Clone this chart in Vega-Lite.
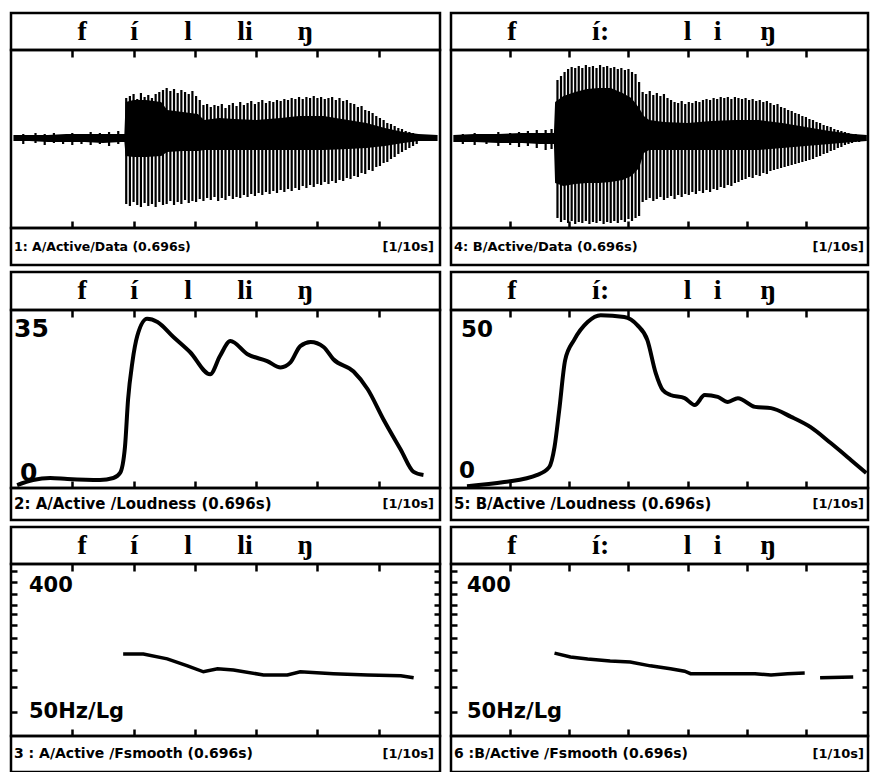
{
"$schema": "https://vega.github.io/schema/vega-lite/v6.json",
"background": "white",
"padding": {"left": 7, "top": 11, "right": 0, "bottom": 0},
"spacing": 5,
"config": {"view": {"stroke": "black", "strokeWidth": 2.5}},
"datasets": {
"phA": [{"t":116,"ph":"f"},{"t":201,"ph":"í"},{"t":289,"ph":"l"},{"t":382,"ph":"li"},{"t":480,"ph":"ŋ"}],
"phB": [{"t":103,"ph":"f"},{"t":253,"ph":"í:"},{"t":400,"ph":"l"},{"t":451,"ph":"i"},{"t":536,"ph":"ŋ"}],
"wfA_core": [{"t":4,"lo":-3,"hi":3},{"t":30,"lo":-3,"hi":3},{"t":60,"lo":-4,"hi":3},{"t":90,"lo":-4,"hi":4},{"t":120,"lo":-4,"hi":4},{"t":150,"lo":-5,"hi":4},{"t":180,"lo":-4,"hi":4},{"t":185,"lo":-4,"hi":4},{"t":187,"lo":-18,"hi":36},{"t":200,"lo":-19,"hi":38},{"t":220,"lo":-19,"hi":38},{"t":245,"lo":-18,"hi":36},{"t":255,"lo":-14,"hi":28},{"t":280,"lo":-13,"hi":26},{"t":305,"lo":-13,"hi":24},{"t":315,"lo":-12,"hi":18},{"t":340,"lo":-12,"hi":20},{"t":365,"lo":-12,"hi":19},{"t":400,"lo":-12,"hi":18},{"t":440,"lo":-12,"hi":20},{"t":470,"lo":-12,"hi":22},{"t":510,"lo":-12,"hi":22},{"t":550,"lo":-11,"hi":18},{"t":580,"lo":-10,"hi":15},{"t":610,"lo":-8,"hi":10},{"t":640,"lo":-5,"hi":6},{"t":665,"lo":-3,"hi":4},{"t":696,"lo":-3,"hi":3}],
"wfA_spk": [{"t":20,"lo":-6,"hi":4},{"t":40,"lo":-5,"hi":5},{"t":55,"lo":-7,"hi":4},{"t":70,"lo":-5,"hi":5},{"t":85,"lo":-6,"hi":3},{"t":100,"lo":-7,"hi":5},{"t":115,"lo":-6,"hi":4},{"t":130,"lo":-7,"hi":6},{"t":145,"lo":-6,"hi":5},{"t":160,"lo":-8,"hi":6},{"t":175,"lo":-6,"hi":7},
{"t":188,"lo":-66,"hi":40},{"t":194,"lo":-68,"hi":42},{"t":200,"lo":-64,"hi":44},{"t":206,"lo":-67,"hi":39},{"t":212,"lo":-69,"hi":45},{"t":218,"lo":-65,"hi":41},{"t":224,"lo":-68,"hi":43},{"t":230,"lo":-66,"hi":40},{"t":236,"lo":-69,"hi":44},{"t":242,"lo":-64,"hi":46},{"t":248,"lo":-67,"hi":48},{"t":254,"lo":-66,"hi":50},{"t":260,"lo":-63,"hi":47},{"t":266,"lo":-67,"hi":49},{"t":272,"lo":-64,"hi":45},{"t":278,"lo":-66,"hi":48},{"t":284,"lo":-62,"hi":46},{"t":290,"lo":-65,"hi":44},{"t":296,"lo":-63,"hi":47},{"t":302,"lo":-64,"hi":42},{"t":308,"lo":-61,"hi":38},{"t":314,"lo":-63,"hi":33},{"t":320,"lo":-60,"hi":34},{"t":326,"lo":-62,"hi":31},{"t":332,"lo":-59,"hi":33},{"t":338,"lo":-63,"hi":32},{"t":344,"lo":-60,"hi":34},{"t":350,"lo":-62,"hi":30},{"t":356,"lo":-58,"hi":33},{"t":362,"lo":-61,"hi":35},{"t":368,"lo":-59,"hi":32},{"t":374,"lo":-60,"hi":36},{"t":380,"lo":-57,"hi":33},{"t":386,"lo":-59,"hi":35},{"t":392,"lo":-56,"hi":37},{"t":398,"lo":-58,"hi":34},{"t":404,"lo":-55,"hi":36},{"t":410,"lo":-57,"hi":38},{"t":416,"lo":-54,"hi":35},{"t":422,"lo":-56,"hi":37},{"t":428,"lo":-53,"hi":36},{"t":434,"lo":-55,"hi":38},{"t":440,"lo":-52,"hi":37},{"t":446,"lo":-54,"hi":39},{"t":452,"lo":-51,"hi":38},{"t":458,"lo":-53,"hi":40},{"t":464,"lo":-50,"hi":39},{"t":470,"lo":-52,"hi":41},{"t":476,"lo":-48,"hi":39},{"t":482,"lo":-50,"hi":41},{"t":488,"lo":-47,"hi":40},{"t":494,"lo":-49,"hi":42},{"t":500,"lo":-46,"hi":40},{"t":506,"lo":-47,"hi":41},{"t":512,"lo":-44,"hi":39},{"t":518,"lo":-46,"hi":40},{"t":524,"lo":-43,"hi":41},{"t":530,"lo":-45,"hi":38},{"t":536,"lo":-42,"hi":40},{"t":542,"lo":-43,"hi":37},{"t":548,"lo":-40,"hi":38},{"t":554,"lo":-41,"hi":35},{"t":560,"lo":-38,"hi":34},{"t":566,"lo":-39,"hi":31},{"t":572,"lo":-35,"hi":32},{"t":578,"lo":-36,"hi":28},{"t":584,"lo":-32,"hi":27},{"t":590,"lo":-33,"hi":25},{"t":596,"lo":-29,"hi":22},{"t":602,"lo":-28,"hi":20},{"t":608,"lo":-25,"hi":18},{"t":614,"lo":-24,"hi":15},{"t":620,"lo":-21,"hi":14},{"t":626,"lo":-19,"hi":12},{"t":632,"lo":-16,"hi":10},{"t":638,"lo":-14,"hi":9},{"t":644,"lo":-12,"hi":7},{"t":650,"lo":-10,"hi":6},{"t":656,"lo":-8,"hi":5},{"t":662,"lo":-6,"hi":4}],
"wfB_core": [{"t":4,"lo":-4,"hi":3},{"t":40,"lo":-4,"hi":4},{"t":80,"lo":-5,"hi":4},{"t":120,"lo":-5,"hi":5},{"t":150,"lo":-6,"hi":5},{"t":174,"lo":-6,"hi":5},{"t":176,"lo":-45,"hi":36},{"t":190,"lo":-48,"hi":42},{"t":210,"lo":-46,"hi":46},{"t":230,"lo":-45,"hi":49},{"t":250,"lo":-45,"hi":50},{"t":270,"lo":-44,"hi":50},{"t":290,"lo":-42,"hi":45},{"t":305,"lo":-38,"hi":40},{"t":318,"lo":-30,"hi":30},{"t":326,"lo":-15,"hi":22},{"t":335,"lo":-12,"hi":18},{"t":360,"lo":-12,"hi":16},{"t":400,"lo":-12,"hi":15},{"t":440,"lo":-12,"hi":17},{"t":480,"lo":-12,"hi":18},{"t":520,"lo":-12,"hi":18},{"t":560,"lo":-10,"hi":15},{"t":600,"lo":-8,"hi":11},{"t":640,"lo":-6,"hi":7},{"t":680,"lo":-4,"hi":4},{"t":703,"lo":-3,"hi":3}],
"wfB_spk": [{"t":20,"lo":-6,"hi":4},{"t":40,"lo":-7,"hi":5},{"t":60,"lo":-6,"hi":4},{"t":80,"lo":-8,"hi":6},{"t":100,"lo":-7,"hi":5},{"t":115,"lo":-9,"hi":6},{"t":130,"lo":-8,"hi":7},{"t":145,"lo":-10,"hi":8},{"t":160,"lo":-12,"hi":8},{"t":170,"lo":-11,"hi":9},
{"t":180,"lo":-80,"hi":58},{"t":186,"lo":-84,"hi":62},{"t":192,"lo":-82,"hi":66},{"t":198,"lo":-85,"hi":69},{"t":204,"lo":-83,"hi":71},{"t":210,"lo":-86,"hi":70},{"t":216,"lo":-84,"hi":72},{"t":222,"lo":-85,"hi":70},{"t":228,"lo":-83,"hi":73},{"t":234,"lo":-86,"hi":71},{"t":240,"lo":-84,"hi":72},{"t":246,"lo":-85,"hi":70},{"t":252,"lo":-83,"hi":73},{"t":258,"lo":-86,"hi":71},{"t":264,"lo":-84,"hi":72},{"t":270,"lo":-85,"hi":70},{"t":276,"lo":-83,"hi":71},{"t":282,"lo":-85,"hi":69},{"t":288,"lo":-82,"hi":70},{"t":294,"lo":-84,"hi":68},{"t":300,"lo":-81,"hi":69},{"t":306,"lo":-83,"hi":66},{"t":312,"lo":-80,"hi":64},{"t":318,"lo":-78,"hi":56},{"t":324,"lo":-64,"hi":46},{"t":330,"lo":-62,"hi":44},{"t":336,"lo":-60,"hi":47},{"t":342,"lo":-63,"hi":43},{"t":348,"lo":-61,"hi":45},{"t":354,"lo":-59,"hi":42},{"t":360,"lo":-62,"hi":44},{"t":366,"lo":-60,"hi":40},{"t":372,"lo":-58,"hi":38},{"t":378,"lo":-61,"hi":36},{"t":384,"lo":-57,"hi":35},{"t":390,"lo":-59,"hi":37},{"t":396,"lo":-56,"hi":34},{"t":402,"lo":-57,"hi":36},{"t":408,"lo":-54,"hi":35},{"t":414,"lo":-56,"hi":37},{"t":420,"lo":-53,"hi":36},{"t":426,"lo":-55,"hi":38},{"t":432,"lo":-52,"hi":39},{"t":438,"lo":-54,"hi":38},{"t":444,"lo":-51,"hi":40},{"t":450,"lo":-52,"hi":39},{"t":456,"lo":-49,"hi":41},{"t":462,"lo":-50,"hi":40},{"t":468,"lo":-47,"hi":41},{"t":474,"lo":-48,"hi":39},{"t":480,"lo":-45,"hi":41},{"t":486,"lo":-44,"hi":40},{"t":492,"lo":-42,"hi":39},{"t":498,"lo":-41,"hi":40},{"t":504,"lo":-39,"hi":38},{"t":510,"lo":-40,"hi":39},{"t":516,"lo":-37,"hi":37},{"t":522,"lo":-38,"hi":38},{"t":528,"lo":-35,"hi":36},{"t":534,"lo":-36,"hi":37},{"t":540,"lo":-33,"hi":35},{"t":546,"lo":-32,"hi":33},{"t":552,"lo":-31,"hi":34},{"t":558,"lo":-30,"hi":31},{"t":564,"lo":-29,"hi":30},{"t":570,"lo":-28,"hi":28},{"t":576,"lo":-27,"hi":27},{"t":582,"lo":-26,"hi":25},{"t":588,"lo":-25,"hi":24},{"t":594,"lo":-24,"hi":22},{"t":600,"lo":-23,"hi":21},{"t":606,"lo":-22,"hi":19},{"t":612,"lo":-21,"hi":18},{"t":618,"lo":-19,"hi":16},{"t":624,"lo":-18,"hi":15},{"t":630,"lo":-16,"hi":13},{"t":636,"lo":-15,"hi":12},{"t":642,"lo":-13,"hi":11},{"t":648,"lo":-12,"hi":9},{"t":654,"lo":-10,"hi":8},{"t":660,"lo":-9,"hi":7},{"t":666,"lo":-7,"hi":6},{"t":672,"lo":-6,"hi":5},{"t":678,"lo":-5,"hi":4},{"t":684,"lo":-4,"hi":4},{"t":690,"lo":-4,"hi":3}],
"loudA": [{"t":10,"v":-0.89},{"t":36,"v":0.22},{"t":64,"v":0.66},{"t":92,"v":0.44},{"t":145,"v":0.22},{"t":167,"v":0.66},{"t":178,"v":1.77},{"t":186,"v":7.53},{"t":191,"v":17.9},{"t":198,"v":26.1},{"t":206,"v":31.9},{"t":222,"v":35.7},{"t":239,"v":35.0},{"t":265,"v":31.7},{"t":292,"v":28.4},{"t":325,"v":23.5},{"t":341,"v":27.5},{"t":358,"v":30.8},{"t":386,"v":27.9},{"t":418,"v":26.4},{"t":440,"v":25.0},{"t":456,"v":26.1},{"t":472,"v":29.7},{"t":489,"v":30.6},{"t":510,"v":29.5},{"t":526,"v":26.8},{"t":559,"v":24.1},{"t":582,"v":20.2},{"t":608,"v":13.5},{"t":636,"v":6.9},{"t":657,"v":2.0},{"t":673,"v":1.3}],
"loudB": [{"t":27,"v":-2.6},{"t":90,"v":-1.3},{"t":146,"v":1.0},{"t":166,"v":3.5},{"t":175,"v":9.9},{"t":183,"v":21.8},{"t":193,"v":37.8},{"t":208,"v":44.2},{"t":231,"v":50.0},{"t":253,"v":52.2},{"t":293,"v":51.6},{"t":315,"v":49.0},{"t":332,"v":44.2},{"t":346,"v":33.7},{"t":358,"v":28.2},{"t":371,"v":26.6},{"t":395,"v":25.6},{"t":412,"v":23.4},{"t":429,"v":26.6},{"t":451,"v":26.0},{"t":468,"v":24.4},{"t":485,"v":25.6},{"t":514,"v":22.8},{"t":541,"v":22.4},{"t":575,"v":19.6},{"t":608,"v":16.3},{"t":642,"v":11.2},{"t":676,"v":5.8},{"t":702,"v":1.6}],
"f0A": [{"t":183,"f":130},{"t":216,"f":130},{"t":255,"f":120},{"t":288,"f":107},{"t":314,"f":97},{"t":337,"f":102},{"t":363,"f":100},{"t":412,"f":92},{"t":451,"f":92},{"t":472,"f":97},{"t":526,"f":94},{"t":582,"f":92},{"t":636,"f":91},{"t":657,"f":88}],
"f0B": [{"seg":1,"t":175,"f":132},{"seg":1,"t":202,"f":124},{"seg":1,"t":231,"f":120},{"seg":1,"t":269,"f":116},{"seg":1,"t":303,"f":114},{"seg":1,"t":337,"f":107},{"seg":1,"t":371,"f":102},{"seg":1,"t":395,"f":98},{"seg":1,"t":405,"f":94},{"seg":1,"t":456,"f":94},{"seg":1,"t":514,"f":94},{"seg":1,"t":541,"f":92},{"seg":1,"t":569,"f":94},{"seg":1,"t":598,"f":95},{"seg":2,"t":624,"f":88},{"seg":2,"t":680,"f":89}],
"fLab": [{"f":400,"lab":"400"},{"f":50,"lab":"50Hz/Lg"}]
},
"hconcat": [
{"spacing":3,"vconcat":[
 {"bounds":"flush","spacing":0,"vconcat":[
  {"width":429,"height":37,"data":{"name":"phA"},"mark":{"type":"text","font":"Liberation Serif","fontWeight":"bold","fontSize":28,"baseline":"middle"},"encoding":{"x":{"field":"t","type":"quantitative","scale":{"domain":[0,700],"nice":false},"axis":null},"text":{"field":"ph","type":"nominal"}}},
  {"width":429,"height":178,"layer":[
   {"data":{"name":"wfA_core"},"mark":{"type":"area","color":"black"},"encoding":{"x":{"field":"t","type":"quantitative","scale":{"domain":[0,700],"nice":false},"axis":{"orient":"bottom","values":[100,200,300,400,500,600],"labels":false,"domain":false,"grid":false,"tickSize":-7,"tickWidth":2.5,"tickColor":"black","title":null}},"y":{"field":"lo","type":"quantitative","scale":{"domain":[-90,88],"nice":false},"axis":null},"y2":{"field":"hi"}}},
   {"data":{"name":"wfA_spk"},"mark":{"type":"rule","color":"black","strokeWidth":2.2},"encoding":{"x":{"field":"t","type":"quantitative","axis":{"orient":"top","values":[100,200,300,400,500,600],"labels":false,"domain":false,"grid":false,"tickSize":-7,"tickWidth":2.5,"tickColor":"black","title":null}},"y":{"field":"lo","type":"quantitative","axis":null},"y2":{"field":"hi"}}}
  ],"resolve":{"axis":{"x":"independent"}}},
  {"width":429,"height":37,"data":{"values":[{"cap":"1: A/Active/Data (0.696s)","unit":"[1/10s]"}]},"layer":[
   {"mark":{"type":"text","align":"left","dx":3,"font":"DejaVu Sans","fontWeight":"bold","fontSize":12.5},"encoding":{"x":{"datum":0,"type":"quantitative","scale":{"domain":[0,700],"nice":false},"axis":null},"text":{"field":"cap"}}},
   {"mark":{"type":"text","align":"right","dx":-6,"font":"DejaVu Sans","fontWeight":"bold","fontSize":13},"encoding":{"x":{"datum":700,"type":"quantitative","axis":null},"text":{"field":"unit"}}}
  ]}
 ]},
 {"bounds":"flush","spacing":0,"vconcat":[
  {"width":429,"height":38,"data":{"name":"phA"},"mark":{"type":"text","font":"Liberation Serif","fontWeight":"bold","fontSize":28,"baseline":"middle"},"encoding":{"x":{"field":"t","type":"quantitative","scale":{"domain":[0,700],"nice":false},"axis":null},"text":{"field":"ph","type":"nominal"}}},
  {"width":429,"height":178,"layer":[
   {"data":{"name":"loudA"},"mark":{"type":"line","color":"black","strokeWidth":4,"interpolate":"monotone"},"encoding":{"x":{"field":"t","type":"quantitative","scale":{"domain":[0,700],"nice":false},"axis":{"orient":"bottom","values":[100,200,300,400,500,600],"labels":false,"domain":false,"grid":false,"tickSize":-7,"tickWidth":2.5,"tickColor":"black","title":null}},"y":{"field":"v","type":"quantitative","scale":{"domain":[-1.54,37.64],"nice":false},"axis":null}}},
   {"data":{"values":[{"v":35,"lab":"35"}]},"mark":{"type":"text","align":"left","baseline":"top","dx":3,"dy":-5,"font":"DejaVu Sans","fontWeight":"bold","fontSize":25},"encoding":{"x":{"datum":0,"type":"quantitative","axis":{"orient":"top","values":[100,200,300,400,500,600],"labels":false,"domain":false,"grid":false,"tickSize":-7,"tickWidth":2.5,"tickColor":"black","title":null}},"y":{"field":"v","type":"quantitative","axis":null},"text":{"field":"lab"}}},
   {"data":{"values":[{"v":0,"lab":"0"}]},"mark":{"type":"text","align":"left","baseline":"alphabetic","dx":9,"font":"DejaVu Sans","fontWeight":"bold","fontSize":25},"encoding":{"x":{"datum":0,"type":"quantitative","axis":null},"y":{"field":"v","type":"quantitative","axis":null},"text":{"field":"lab"}}}
  ],"resolve":{"axis":{"x":"independent"}}},
  {"width":429,"height":32,"data":{"values":[{"cap":"2: A/Active /Loudness (0.696s)","unit":"[1/10s]"}]},"layer":[
   {"mark":{"type":"text","align":"left","dx":3,"font":"DejaVu Sans","fontWeight":"bold","fontSize":15},"encoding":{"x":{"datum":0,"type":"quantitative","scale":{"domain":[0,700],"nice":false},"axis":null},"text":{"field":"cap"}}},
   {"mark":{"type":"text","align":"right","dx":-6,"font":"DejaVu Sans","fontWeight":"bold","fontSize":13},"encoding":{"x":{"datum":700,"type":"quantitative","axis":null},"text":{"field":"unit"}}}
  ]}
 ]},
 {"bounds":"flush","spacing":0,"vconcat":[
  {"width":429,"height":37,"data":{"name":"phA"},"mark":{"type":"text","font":"Liberation Serif","fontWeight":"bold","fontSize":28,"baseline":"middle"},"encoding":{"x":{"field":"t","type":"quantitative","scale":{"domain":[0,700],"nice":false},"axis":null},"text":{"field":"ph","type":"nominal"}}},
  {"width":429,"height":172,"layer":[
   {"data":{"name":"f0A"},"mark":{"type":"line","color":"black","strokeWidth":3.5},"encoding":{"x":{"field":"t","type":"quantitative","scale":{"domain":[0,700],"nice":false},"axis":{"orient":"bottom","values":[100,200,300,400,500,600],"labels":false,"domain":false,"grid":false,"tickSize":-7,"tickWidth":2.5,"tickColor":"black","title":null}},"y":{"field":"f","type":"quantitative","scale":{"type":"log","domain":[33.6,575],"nice":false},"axis":{"orient":"left","values":[50,75,100,135,170,210,250,290,350,430,510],"labels":false,"domain":false,"grid":false,"tickSize":-6,"tickWidth":2.5,"tickColor":"black","title":null}}}},
   {"data":{"name":"fLab"},"mark":{"type":"text","align":"left","baseline":"middle","dx":18,"font":"DejaVu Sans","fontWeight":"bold","fontSize":21},"encoding":{"x":{"datum":0,"type":"quantitative","axis":{"orient":"top","values":[100,200,300,400,500,600],"labels":false,"domain":false,"grid":false,"tickSize":-7,"tickWidth":2.5,"tickColor":"black","title":null}},"y":{"field":"f","type":"quantitative","axis":{"orient":"right","values":[50,75,100,135,170,210,250,290,350,430,510],"labels":false,"domain":false,"grid":false,"tickSize":-6,"tickWidth":2.5,"tickColor":"black","title":null}},"text":{"field":"lab"}}}
  ],"resolve":{"axis":{"x":"independent","y":"independent"}}},
  {"width":429,"height":36,"data":{"values":[{"cap":"3 : A/Active /Fsmooth (0.696s)","unit":"[1/10s]"}]},"layer":[
   {"mark":{"type":"text","align":"left","dx":3,"font":"DejaVu Sans","fontWeight":"bold","fontSize":14},"encoding":{"x":{"datum":0,"type":"quantitative","scale":{"domain":[0,700],"nice":false},"axis":null},"text":{"field":"cap"}}},
   {"mark":{"type":"text","align":"right","dx":-6,"font":"DejaVu Sans","fontWeight":"bold","fontSize":13},"encoding":{"x":{"datum":700,"type":"quantitative","axis":null},"text":{"field":"unit"}}}
  ]}
 ]}
]},
{"spacing":3,"vconcat":[
 {"bounds":"flush","spacing":0,"vconcat":[
  {"width":417,"height":37,"data":{"name":"phB"},"mark":{"type":"text","font":"Liberation Serif","fontWeight":"bold","fontSize":28,"baseline":"middle"},"encoding":{"x":{"field":"t","type":"quantitative","scale":{"domain":[0,705],"nice":false},"axis":null},"text":{"field":"ph","type":"nominal"}}},
  {"width":417,"height":178,"layer":[
   {"data":{"name":"wfB_core"},"mark":{"type":"area","color":"black"},"encoding":{"x":{"field":"t","type":"quantitative","scale":{"domain":[0,705],"nice":false},"axis":{"orient":"bottom","values":[100,200,300,400,500,600],"labels":false,"domain":false,"grid":false,"tickSize":-7,"tickWidth":2.5,"tickColor":"black","title":null}},"y":{"field":"lo","type":"quantitative","scale":{"domain":[-90,88],"nice":false},"axis":null},"y2":{"field":"hi"}}},
   {"data":{"name":"wfB_spk"},"mark":{"type":"rule","color":"black","strokeWidth":2.2},"encoding":{"x":{"field":"t","type":"quantitative","axis":{"orient":"top","values":[100,200,300,400,500,600],"labels":false,"domain":false,"grid":false,"tickSize":-7,"tickWidth":2.5,"tickColor":"black","title":null}},"y":{"field":"lo","type":"quantitative","axis":null},"y2":{"field":"hi"}}}
  ],"resolve":{"axis":{"x":"independent"}}},
  {"width":417,"height":37,"data":{"values":[{"cap":"4: B/Active/Data (0.696s)","unit":"[1/10s]"}]},"layer":[
   {"mark":{"type":"text","align":"left","dx":3,"font":"DejaVu Sans","fontWeight":"bold","fontSize":13},"encoding":{"x":{"datum":0,"type":"quantitative","scale":{"domain":[0,705],"nice":false},"axis":null},"text":{"field":"cap"}}},
   {"mark":{"type":"text","align":"right","dx":-4,"font":"DejaVu Sans","fontWeight":"bold","fontSize":13},"encoding":{"x":{"datum":705,"type":"quantitative","axis":null},"text":{"field":"unit"}}}
  ]}
 ]},
 {"bounds":"flush","spacing":0,"vconcat":[
  {"width":417,"height":38,"data":{"name":"phB"},"mark":{"type":"text","font":"Liberation Serif","fontWeight":"bold","fontSize":28,"baseline":"middle"},"encoding":{"x":{"field":"t","type":"quantitative","scale":{"domain":[0,705],"nice":false},"axis":null},"text":{"field":"ph","type":"nominal"}}},
  {"width":417,"height":178,"layer":[
   {"data":{"name":"loudB"},"mark":{"type":"line","color":"black","strokeWidth":4,"interpolate":"monotone"},"encoding":{"x":{"field":"t","type":"quantitative","scale":{"domain":[0,705],"nice":false},"axis":{"orient":"bottom","values":[100,200,300,400,500,600],"labels":false,"domain":false,"grid":false,"tickSize":-7,"tickWidth":2.5,"tickColor":"black","title":null}},"y":{"field":"v","type":"quantitative","scale":{"domain":[-3.2,53.85],"nice":false},"axis":null}}},
   {"data":{"values":[{"v":50,"lab":"50"}]},"mark":{"type":"text","align":"left","baseline":"top","dx":10,"dy":-3,"font":"DejaVu Sans","fontWeight":"bold","fontSize":23},"encoding":{"x":{"datum":0,"type":"quantitative","axis":{"orient":"top","values":[100,200,300,400,500,600],"labels":false,"domain":false,"grid":false,"tickSize":-7,"tickWidth":2.5,"tickColor":"black","title":null}},"y":{"field":"v","type":"quantitative","axis":null},"text":{"field":"lab"}}},
   {"data":{"values":[{"v":0,"lab":"0"}]},"mark":{"type":"text","align":"left","baseline":"alphabetic","dx":8,"font":"DejaVu Sans","fontWeight":"bold","fontSize":23},"encoding":{"x":{"datum":0,"type":"quantitative","axis":null},"y":{"field":"v","type":"quantitative","axis":null},"text":{"field":"lab"}}}
  ],"resolve":{"axis":{"x":"independent"}}},
  {"width":417,"height":32,"data":{"values":[{"cap":"5: B/Active /Loudness (0.696s)","unit":"[1/10s]"}]},"layer":[
   {"mark":{"type":"text","align":"left","dx":3,"font":"DejaVu Sans","fontWeight":"bold","fontSize":15},"encoding":{"x":{"datum":0,"type":"quantitative","scale":{"domain":[0,705],"nice":false},"axis":null},"text":{"field":"cap"}}},
   {"mark":{"type":"text","align":"right","dx":-4,"font":"DejaVu Sans","fontWeight":"bold","fontSize":13},"encoding":{"x":{"datum":705,"type":"quantitative","axis":null},"text":{"field":"unit"}}}
  ]}
 ]},
 {"bounds":"flush","spacing":0,"vconcat":[
  {"width":417,"height":37,"data":{"name":"phB"},"mark":{"type":"text","font":"Liberation Serif","fontWeight":"bold","fontSize":28,"baseline":"middle"},"encoding":{"x":{"field":"t","type":"quantitative","scale":{"domain":[0,705],"nice":false},"axis":null},"text":{"field":"ph","type":"nominal"}}},
  {"width":417,"height":172,"layer":[
   {"data":{"name":"f0B"},"mark":{"type":"line","color":"black","strokeWidth":3.5},"encoding":{"x":{"field":"t","type":"quantitative","scale":{"domain":[0,705],"nice":false},"axis":{"orient":"bottom","values":[100,200,300,400,500,600],"labels":false,"domain":false,"grid":false,"tickSize":-7,"tickWidth":2.5,"tickColor":"black","title":null}},"y":{"field":"f","type":"quantitative","scale":{"type":"log","domain":[33.6,575],"nice":false},"axis":{"orient":"left","values":[50,75,100,135,170,210,250,290,350,430,510],"labels":false,"domain":false,"grid":false,"tickSize":-6,"tickWidth":2.5,"tickColor":"black","title":null}},"detail":{"field":"seg","type":"nominal"}}},
   {"data":{"name":"fLab"},"mark":{"type":"text","align":"left","baseline":"middle","dx":16,"font":"DejaVu Sans","fontWeight":"bold","fontSize":21},"encoding":{"x":{"datum":0,"type":"quantitative","axis":{"orient":"top","values":[100,200,300,400,500,600],"labels":false,"domain":false,"grid":false,"tickSize":-7,"tickWidth":2.5,"tickColor":"black","title":null}},"y":{"field":"f","type":"quantitative","axis":{"orient":"right","values":[50,75,100,135,170,210,250,290,350,430,510],"labels":false,"domain":false,"grid":false,"tickSize":-6,"tickWidth":2.5,"tickColor":"black","title":null}},"text":{"field":"lab"}}}
  ],"resolve":{"axis":{"x":"independent","y":"independent"}}},
  {"width":417,"height":36,"data":{"values":[{"cap":"6 :B/Active /Fsmooth (0.696s)","unit":"[1/10s]"}]},"layer":[
   {"mark":{"type":"text","align":"left","dx":3,"font":"DejaVu Sans","fontWeight":"bold","fontSize":14},"encoding":{"x":{"datum":0,"type":"quantitative","scale":{"domain":[0,705],"nice":false},"axis":null},"text":{"field":"cap"}}},
   {"mark":{"type":"text","align":"right","dx":-4,"font":"DejaVu Sans","fontWeight":"bold","fontSize":13},"encoding":{"x":{"datum":705,"type":"quantitative","axis":null},"text":{"field":"unit"}}}
  ]}
 ]}
]}
]
}
